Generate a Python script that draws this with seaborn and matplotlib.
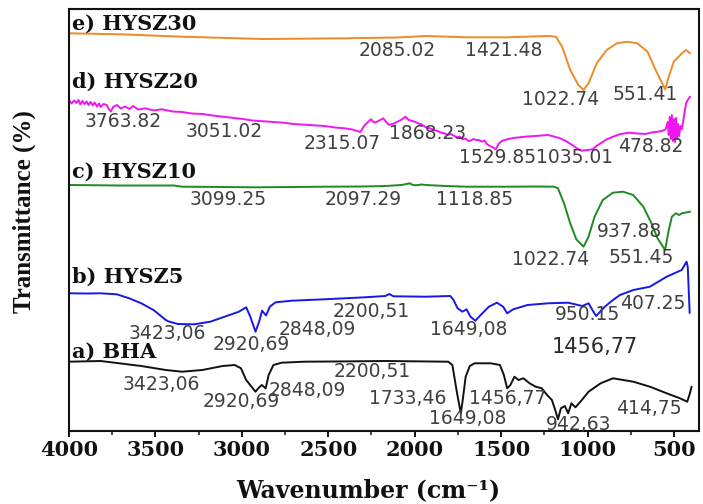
import matplotlib
matplotlib.use("Agg")
import matplotlib.pyplot as plt
import seaborn as sns
from matplotlib.ticker import MultipleLocator

# ---------------- FTIR spectra (wavenumber in cm-1, stacked transmittance in a.u.) ----------------
bha_wn = [4000, 3817, 3700, 3582, 3440, 3346, 3229, 3111, 3041, 3005, 2975, 2921, 2905, 2885, 2862,
          2845, 2817, 2770, 2641, 2400, 2170, 1806, 1782, 1755, 1733, 1722, 1705, 1681, 1653, 1559,
          1507, 1484, 1465, 1446, 1423, 1399, 1371, 1335, 1300, 1265, 1234, 1206, 1187, 1171, 1154,
          1131, 1112, 1093, 1070, 1041, 994, 924, 853, 735, 639, 542, 465, 423, 407, 398]
bha_t = [69.3, 70, 67.5, 65, 61, 59.3, 61, 65, 66, 62.7, 51, 39.3, 42.7, 46, 42.7,
         56, 66, 68.3, 69.3, 69.6, 70, 69.3, 66, 38, 17.7, 31, 54.3, 65, 67.7, 67.7,
         66, 56, 42.7, 46, 54.3, 51, 52.7, 47.7, 44.3, 42.7, 36, 31, 21, 11.7, 22.7,
         25, 17.7, 27.7, 23.7, 29.3, 39.3, 47.7, 52.7, 49.3, 44.3, 37.7, 32.7, 29.3, 38, 44.3]

hysz5_wn = [4000, 3900, 3817, 3723, 3652, 3582, 3511, 3440, 3423, 3370, 3276, 3182, 3088, 3017, 2975,
            2951, 2921, 2900, 2883, 2860, 2838, 2805, 2711, 2523, 2288, 2170, 2147, 2123, 1935, 1794,
            1775, 1752, 1724, 1700, 1677, 1649, 1618, 1571, 1524, 1488, 1465, 1430, 1347, 1229, 1112,
            1030, 994, 966, 950, 900, 853, 812, 735, 639, 542, 455, 427, 420, 409]
hysz5_t = [137.7, 137.5, 137.7, 136.7, 132.7, 127.7, 121, 111, 109.5, 107, 106.7, 109.3, 115, 119.3, 123.7,
           114.3, 99.3, 109.3, 120.3, 115.5, 124.3, 128.7, 130.3, 131.7, 133.7, 135, 137, 134.7, 134.3, 135,
           131, 122.7, 119.3, 121.7, 114.3, 110.3, 116, 124.3, 128.3, 124.3, 117.7, 121.7, 126, 127.7, 128.3,
           125, 127.7, 119.3, 115, 124.3, 131, 136, 141, 144.3, 154.3, 161, 169.3, 164, 118]

hysz10_wn = [4000, 3700, 3393, 3346, 3100, 2923, 2700, 2523, 2300, 2170, 2076, 2029, 2010, 1994, 1960,
             1935, 1818, 1700, 1465, 1300, 1194, 1171, 1136, 1100, 1065, 1023, 994, 959, 912, 853,
             795, 736, 677, 630, 595, 551, 530, 512, 489, 470, 454, 430, 406]
hysz10_t = [246, 245.5, 245.5, 244.3, 244, 243.7, 244, 244.3, 244.5, 245, 246, 247.7, 246, 245.7, 246.5,
            246, 245, 244.3, 244.3, 244.5, 244.3, 242.7, 227.7, 207.7, 191.7, 184.3, 194.3, 214.3, 231, 238.3,
            239.3, 236, 224.3, 207.7, 192.7, 181, 201, 214.3, 217.7, 216, 217.7, 218.5, 219.3]

hysz20_wn = [4000, 3985, 3970, 3958, 3945, 3935, 3923, 3910, 3898, 3887, 3875, 3862, 3852, 3838, 3826,
             3817, 3800, 3782, 3770, 3758, 3745, 3723, 3700, 3676, 3650, 3629, 3600, 3558, 3510, 3464,
             3400, 3346, 3290, 3229, 3170, 3111, 3051, 2994, 2940, 2876, 2820, 2758, 2700, 2641, 2580,
             2523, 2460, 2406, 2360, 2315, 2288, 2253, 2235, 2217, 2182, 2160, 2147, 2120, 2100, 2075,
             2053, 2035, 2018, 1995, 1982, 1960, 1935, 1910, 1888, 1868, 1850, 1829, 1810, 1790, 1771,
             1750, 1740, 1724, 1705, 1690, 1677, 1660, 1645, 1629, 1610, 1596, 1582, 1565, 1547, 1530,
             1512, 1490, 1465, 1430, 1394, 1350, 1300, 1265, 1229, 1195, 1159, 1125, 1089, 1060, 1035,
             1000, 971, 945, 924, 890, 853, 810, 759, 710, 665, 630, 595, 570, 548, 536,
             530, 524, 518, 512, 506, 500, 494, 488, 482, 476, 470, 462, 454, 442, 430,
             418, 406]
hysz20_t = [331, 327.5, 330.5, 328, 331, 326.5, 330, 327, 329.5, 326, 329, 325.5, 328.5, 324.5, 327.5,
            324, 327, 326, 322, 319.5, 324, 326, 322.5, 324.5, 322, 325, 321.5, 322.7, 320.5, 321.7,
            319.5, 319, 317.5, 317, 315.5, 314.3, 313, 312, 310.5, 309.7, 309, 308.3, 307, 306.3, 305.5,
            305, 303.5, 302.7, 301.5, 299, 306, 311.7, 308.5, 309.3, 312.7, 308, 306, 307.5, 309.3, 311.5,
            314.3, 311, 310.3, 309, 307.7, 306.5, 303.7, 302.5, 301, 300, 298.5, 297.7, 296, 297, 295,
            293.5, 294.5, 291.7, 292.5, 290, 290.3, 292, 291, 291, 289.5, 290.5, 287, 285, 283.5, 281.7,
            287.7, 290.5, 291.7, 293, 293.7, 294.5, 295, 295.5, 296, 294.5, 292.7, 290, 286, 282.5, 280.3,
            281, 281.7, 285.5, 287.7, 291.5, 294.3, 297, 298.3, 297.5, 297, 298.5, 299.3, 300, 301.7, 309,
            296, 314, 292, 316, 290, 312, 289, 313, 292, 307, 295, 305, 302, 315, 327.7,
            331.5, 334.3]

hysz30_wn = [4000, 3699, 3346, 2876, 2406, 2100, 1935, 1700, 1465, 1229, 1183, 1147, 1100, 1053, 1023,
             994, 947, 889, 830, 771, 712, 653, 606, 551, 530, 501, 454, 430, 406]
hysz30_t = [397.7, 396.7, 394.3, 392, 392.7, 393.5, 395, 393.7, 393.7, 395, 394.3, 384.3, 361, 346, 341,
            347.7, 367.7, 381, 387.7, 389.3, 387.7, 379.3, 361, 341.7, 354.3, 369.3, 377.7, 381, 377.7]

sample_names = ["a) BHA", "b) HYSZ5", "c) HYSZ10", "d) HYSZ20", "e) HYSZ30"]

# band assignments written next to each spectrum
bha_peaks = ["2200,51", "3423,06", "2848,09", "2920,69", "1733,46", "1456,77", "1649,08", "942,63", "414,75"]
hysz5_peaks = ["2200,51", "407.25", "950.15", "3423,06", "2848,09", "1649,08", "2920,69"]
hysz10_peaks = ["3099.25", "2097.29", "1118.85", "937.88", "1022.74", "551.45"]
hysz20_peaks = ["3763.82", "3051.02", "2315.07", "1868.23", "478.82"]
hysz20_pair = ["1529.85", "1035.01"]
hysz30_peaks = ["2085.02", "1421.48", "1022.74", "551.41"]
extra_peak = "1456,77"

# ---------------- figure ----------------
sns.set_theme(style="white")
plt.rcParams["font.family"] = ["DejaVu Sans"]

fig = plt.figure(figsize=(7.03, 5.04), dpi=100)
ax = fig.add_axes([69 / 703, 1 - 431 / 504, 630 / 703, 422 / 504])

colors = ["#111111", "#1818E6", "#1F8A22", "#F214F2", "#F08A24"]
spectra = [(bha_wn, bha_t), (hysz5_wn, hysz5_t), (hysz10_wn, hysz10_t),
           (hysz20_wn, hysz20_t), (hysz30_wn, hysz30_t)]
for (wn, t), c in zip(spectra, colors):
    sns.lineplot(x=wn, y=t, ax=ax, color=c, lw=1.4, sort=False, estimator=None)

ax.set_xlim(4000, 355)
ax.set_ylim(0, 422)

# sample names (baseline positions)
name_pos = [(3983, 73.5), (3983, 148.5), (3983, 253.5), (3983, 343), (3983, 401)]
for name, (x, y) in zip(sample_names, name_pos):
    ax.text(x, y, name, ha="left", va="baseline", fontsize=15, fontweight="bold",
            family="DejaVu Serif", color="#111111")

ann_style = dict(ha="center", va="center", fontsize=13.5, color="#404040", family="DejaVu Sans")

bha_pos = [(2247, 59.3), (3465, 46), (2623, 41), (3005, 29.3), (2042, 32.7),
           (1460, 32.7), (1695, 12.7), (1053, 6), (647, 22.7)]
hysz5_pos = [(2253, 119.3), (624, 127.7), (1000, 116), (3433, 97.7), (2565, 101),
             (1689, 101), (2947, 86)]
hysz10_pos = [(3077, 231), (2299, 231), (1654, 231), (755, 199.3), (1214, 171.7), (691, 173.7)]
hysz20_pos = [(3688, 309.3), (3100, 299.3), (2418, 287.7), (1923, 297.7), (636, 284.3)]
hysz30_pos = [(2100, 380.3), (1483.5, 380.3), (1154, 331), (665, 336)]

for labels, positions in [(bha_peaks, bha_pos), (hysz5_peaks, hysz5_pos), (hysz10_peaks, hysz10_pos),
                          (hysz20_peaks, hysz20_pos), (hysz30_peaks, hysz30_pos)]:
    for lab, (x, y) in zip(labels, positions):
        ax.text(x, y, lab, **ann_style)

# two HYSZ20 labels written edge to edge
pair_style = dict(ann_style)
pair_style.pop("ha")
ax.text(1298, 273.5, hysz20_pair[0], ha="right", **pair_style)
ax.text(1298, 273.5, hysz20_pair[1], ha="left", **pair_style)

ax.text(960, 84.3, extra_peak, ha="center", va="center", fontsize=15, color="#2a2a2a",
        family="DejaVu Sans")

# axes styling
for side in ["left", "right", "top", "bottom"]:
    ax.spines[side].set_visible(True)
    ax.spines[side].set_color("#111111")
    ax.spines[side].set_linewidth(1.5)

ax.xaxis.set_major_locator(MultipleLocator(500))
ax.xaxis.set_minor_locator(MultipleLocator(250))
ax.tick_params(axis="x", which="major", direction="out", length=4.5, width=1.4,
               bottom=True, top=False, pad=2, colors="#111111")
ax.tick_params(axis="x", which="minor", direction="out", length=3, width=1.2, bottom=True, top=False)
ax.tick_params(axis="y", which="both", left=False, right=False, labelleft=False)
for lab in ax.get_xticklabels():
    lab.set_fontfamily("DejaVu Serif")
    lab.set_fontweight("bold")
    lab.set_fontsize(15)
    lab.set_color("#111111")

ax.set_xlabel("Wavenumber (cm\u207b\u00b9)", fontsize=17, fontweight="bold",
              family="DejaVu Serif", color="#111111")
ax.xaxis.set_label_coords(0.475, -0.112)
ax.set_ylabel("Transmittance (%)", fontsize=18, fontweight="bold",
              family="Liberation Serif", color="#111111")
ax.yaxis.set_label_coords(-0.052, 0.52)

fig.savefig("out.png", dpi=100, facecolor="white")
